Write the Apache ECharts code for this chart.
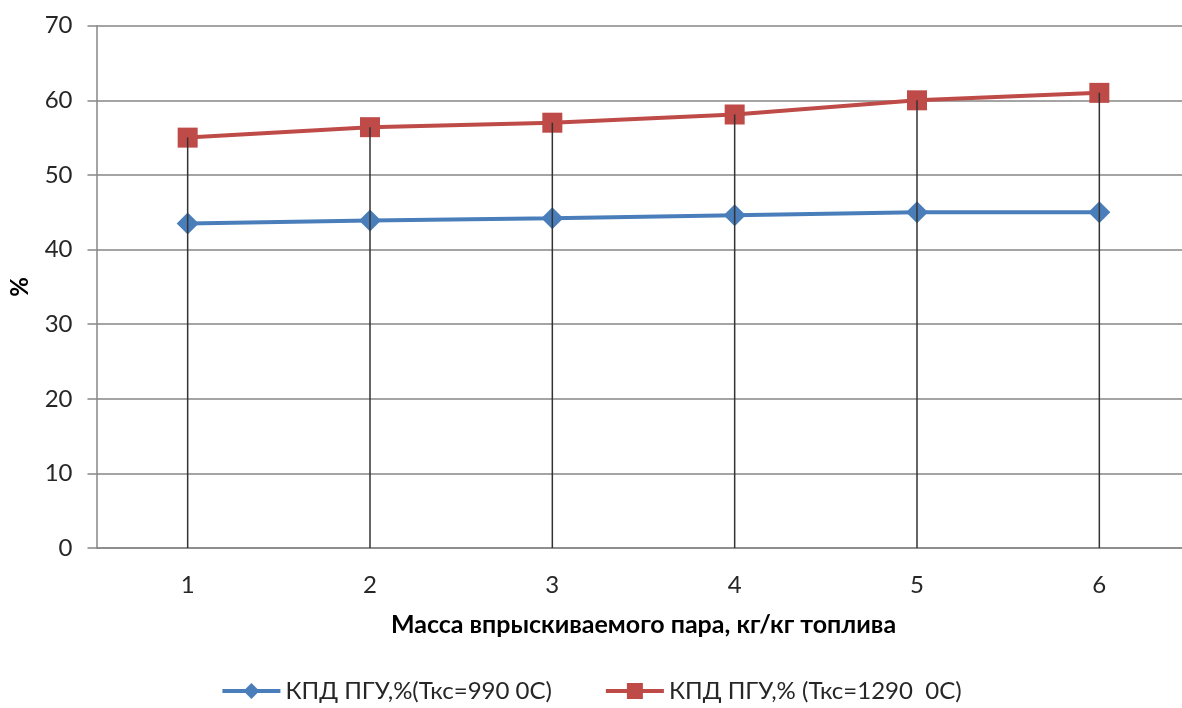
<!DOCTYPE html>
<html><head><meta charset="utf-8">
<script src="https://cdn.jsdelivr.net/npm/echarts@6/dist/echarts.min.js"></script>
<style>html,body{margin:0;padding:0;background:#fff}#c{width:1182px;height:708px}</style>
</head><body><div id="c"></div>
<script>
const categories = ['1','2','3','4','5','6'];
const seriesNames = ['КПД ПГУ,%(Ткс=990 0С)', 'КПД ПГУ,% (Ткс=1290  0С)'];
const blueValues = [43.5, 43.9, 44.2, 44.6, 45.0, 45.0];
const redValues = [55.0, 56.4, 57.0, 58.1, 60.0, 61.0];
const yTicks = {min: 0, max: 70, interval: 10};
const xTitle = 'Масса впрыскиваемого пара, кг/кг топлива';
const yTitle = '%';

const FONT = 'Lato';
const chart = echarts.init(document.getElementById('c'), null, {renderer: 'canvas'});
chart.setOption({
  animation: false,
  textStyle: {fontFamily: FONT},
  grid: {left: 96.5, top: 25.7, width: 1094, bottom: 160, containLabel: false, outerBoundsMode: 'none'},
  legend: {
    data: seriesNames,
    bottom: 0, left: 'center',
    itemWidth: 58, itemHeight: 20, itemGap: 52,
    lineStyle: {width: 4},
    textStyle: {fontFamily: FONT, fontSize: 24, color: '#262626'}
  },
  xAxis: {
    type: 'category', data: categories, boundaryGap: true,
    name: xTitle, nameLocation: 'middle', nameGap: 64,
    nameTextStyle: {fontFamily: FONT, fontSize: 25, fontWeight: 'bold', color: '#000'},
    axisLine: {show: true, lineStyle: {color: '#868686', width: 1.5}},
    axisTick: {show: false},
    axisLabel: {fontSize: 24, color: '#262626', margin: 25}
  },
  yAxis: {
    type: 'value', min: yTicks.min, max: yTicks.max, interval: yTicks.interval,
    name: yTitle, nameLocation: 'middle', nameGap: 64, nameRotate: 90,
    nameTextStyle: {fontFamily: FONT, fontSize: 24, fontWeight: 'bold', color: '#000'},
    axisLine: {show: true, lineStyle: {color: '#868686', width: 1.5}},
    axisTick: {show: true, length: 9, lineStyle: {color: '#868686', width: 1.5}},
    axisLabel: {fontSize: 24, color: '#262626', margin: 24},
    splitLine: {show: true, lineStyle: {color: '#868686', width: 1.5}}
  },
  series: [
    {
      name: seriesNames[0], type: 'line', data: blueValues,
      symbol: 'diamond', symbolSize: 22,
      lineStyle: {color: '#4a7ebb', width: 4},
      itemStyle: {color: '#4a7ebb'}, z: 3
    },
    {
      name: seriesNames[1], type: 'line', data: redValues,
      symbol: 'rect', symbolSize: 20,
      lineStyle: {color: '#be4b48', width: 4},
      itemStyle: {color: '#be4b48'}, z: 3
    },
    {
      name: 'drop', type: 'bar', data: redValues, barWidth: 1.5,
      itemStyle: {color: '#333333'}, z: 10, silent: true
    }
  ]
});
</script></body></html>
